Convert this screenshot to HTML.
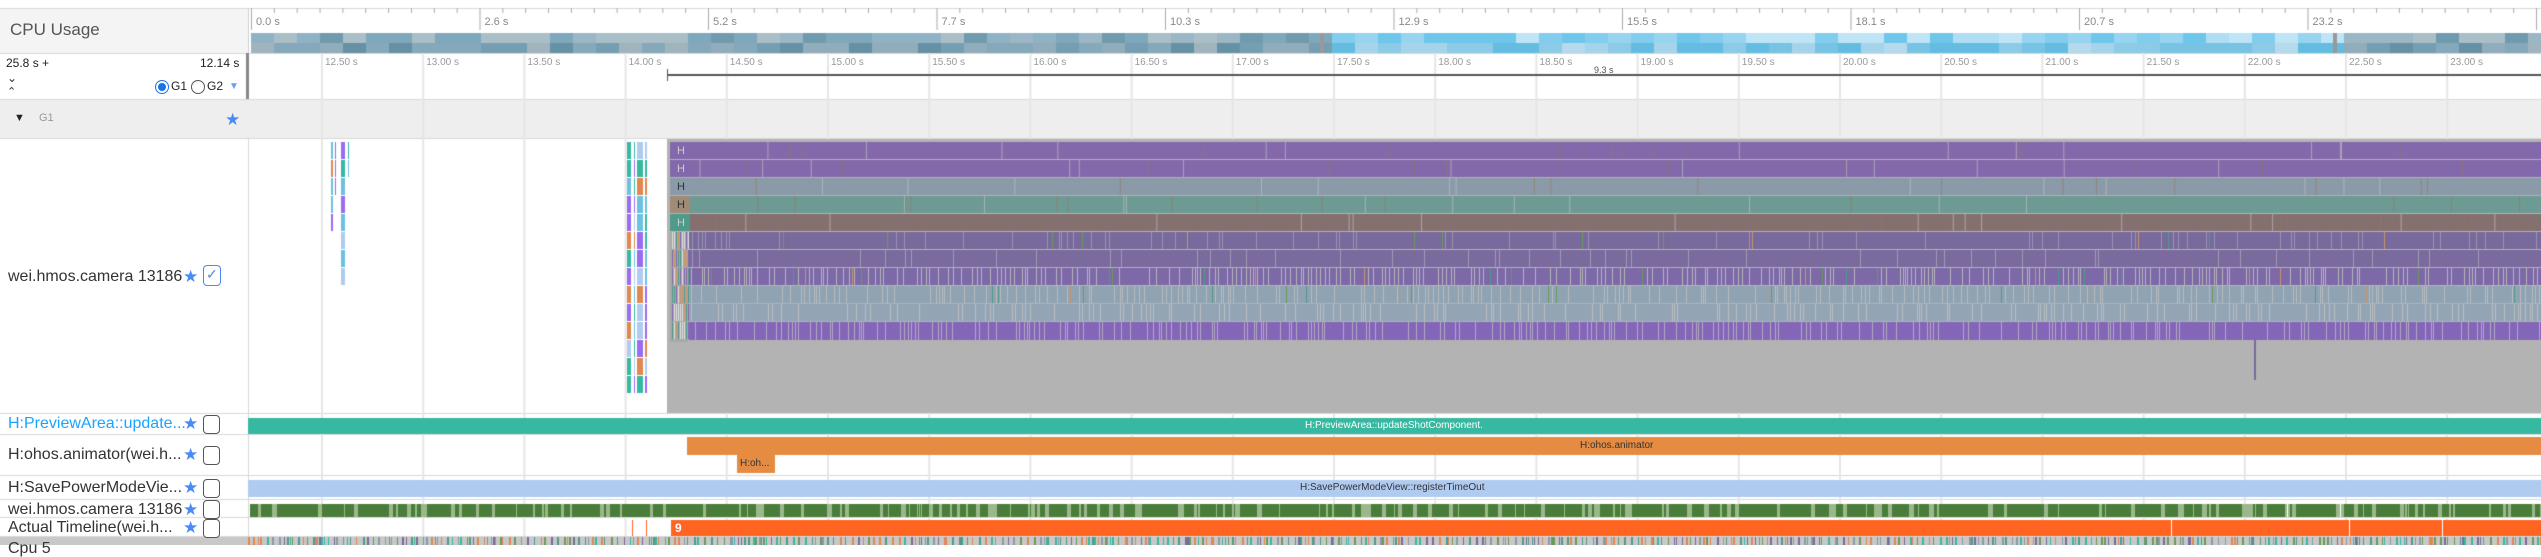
<!DOCTYPE html>
<html><head><meta charset="utf-8">
<style>
html,body{margin:0;padding:0;width:2541px;height:545px;overflow:hidden;background:#fff;font-family:"Liberation Sans",sans-serif;}
#cv{position:absolute;left:0;top:0;}
.t{position:absolute;white-space:nowrap;line-height:1;}
.lbl{font-size:16px;color:#333;}
.star{position:absolute;color:#4a8af4;font-size:17px;line-height:1;}
.cb{position:absolute;width:15px;height:17px;border:1.5px solid #555;border-radius:4px;background:#fff;}
.rl{font-size:11px;color:#888;}
.tl{font-size:10px;color:#999;}
</style></head><body>
<canvas id="cv" width="2541" height="545"></canvas>

<div class="t" style="left:10px;top:21px;font-size:17px;color:#555;">CPU Usage</div>
<div class="t" style="left:6px;top:57px;font-size:12px;color:#222;">25.8 s +</div>
<div class="t" style="left:200px;top:57px;font-size:12px;color:#222;">12.14 s</div>
<div class="t" style="left:7px;top:72px;font-size:12px;color:#333;">⌄</div>
<div class="t" style="left:7px;top:87px;font-size:11px;color:#333;">⌃</div>
<div style="position:absolute;left:155px;top:80px;width:12px;height:12px;border:1px solid #1a73e8;border-radius:50%;"></div>
<div style="position:absolute;left:158px;top:83px;width:8px;height:8px;background:#1a73e8;border-radius:50%;"></div>
<div class="t" style="left:171px;top:80px;font-size:12px;color:#222;">G1</div>
<div style="position:absolute;left:191px;top:80px;width:12px;height:12px;border:1px solid #555;border-radius:50%;"></div>
<div class="t" style="left:207px;top:80px;font-size:12px;color:#222;">G2</div>
<div class="t" style="left:229px;top:82px;font-size:10px;color:#6a9ef0;">▼</div>

<div class="t" style="left:14px;top:113px;font-size:11px;color:#222;">▼</div>
<div class="t" style="left:39px;top:113px;font-size:11px;color:#999;">G1</div>
<div class="star" style="left:225px;top:111px;">★</div>

<div class="t lbl" style="left:8px;top:269px;">wei.hmos.camera 13186</div>
<div class="star" style="left:183px;top:268px;">★</div>
<div class="cb" style="left:203px;top:265px;width:16px;height:19px;border-color:#4a8af4;"></div>
<div class="t" style="left:206px;top:267px;font-size:14px;color:#4a8af4;">✓</div>

<div class="t lbl" style="left:8px;top:416px;color:#1aa3ff;">H:PreviewArea::update...</div>
<div class="star" style="left:183px;top:415px;">★</div><div class="cb" style="left:203px;top:415px;"></div>
<div class="t lbl" style="left:8px;top:447px;">H:ohos.animator(wei.h...</div>
<div class="star" style="left:183px;top:446px;">★</div><div class="cb" style="left:203px;top:446px;"></div>
<div class="t lbl" style="left:8px;top:480px;">H:SavePowerModeVie...</div>
<div class="star" style="left:183px;top:479px;">★</div><div class="cb" style="left:203px;top:479px;"></div>
<div class="t lbl" style="left:8px;top:502px;">wei.hmos.camera 13186</div>
<div class="star" style="left:183px;top:501px;">★</div><div class="cb" style="left:203px;top:500px;"></div>
<div class="t lbl" style="left:8px;top:520px;">Actual Timeline(wei.h...</div>
<div class="star" style="left:183px;top:519px;">★</div><div class="cb" style="left:203px;top:519px;"></div>
<div class="t lbl" style="left:8px;top:541px;">Cpu 5</div>

<div class="t" style="left:1305px;top:421px;font-size:10px;color:#fff;">H:PreviewArea::updateShotComponent.</div>
<div class="t" style="left:1580px;top:441px;font-size:10px;color:#333;">H:ohos.animator</div>
<div class="t" style="left:740px;top:459px;font-size:10px;color:#333;">H:oh...</div>
<div class="t" style="left:1300px;top:483px;font-size:10px;color:#333;">H:SavePowerModeView::registerTimeOut</div>
<div class="t" style="left:675px;top:522px;font-size:12px;color:#fff;font-weight:bold;">9</div>
<div class="t" style="left:1594px;top:66px;font-size:9px;color:#555;">9.3 s</div>

<div class="t" style="left:677px;top:146px;font-size:11px;color:#ccc;">H</div>
<div class="t" style="left:677px;top:164px;font-size:11px;color:#ccc;">H</div>
<div class="t" style="left:677px;top:182px;font-size:11px;color:#333;">H</div>
<div class="t" style="left:677px;top:200px;font-size:11px;color:#333;">H</div>
<div class="t" style="left:677px;top:218px;font-size:11px;color:#ccc;">H</div>

<div id="labels"></div>
<script>
const c=document.getElementById('cv').getContext('2d');
let s=12345;const r=()=>(s=(s*16807)%2147483647)/2147483647;
const W=2541;
function R(x,y,w,h,col){c.fillStyle=col;c.fillRect(x,y,w,h);}
R(0,8,248,45,'#f4f4f4');
R(0,99,W,39,'#eeeeee');
[8,53,99,138,413,434,475,499,517,536].forEach(y=>R(0,y,W,1,'#d8d8d8'));
R(248,8,1,45,'#d0d0d0');R(246,53,3,46,'#888');R(248,138,1,398,'#d8d8d8');
let L=document.getElementById('labels'),html='';
const ml=['0.0 s','2.6 s','5.2 s','7.7 s','10.3 s','12.9 s','15.5 s','18.1 s','20.7 s','23.2 s'];
for(let k=0;k<120;k++){let x=251+k*22.85;if(x>W)break;
 if(k%10==0){R(x,8,1,22,'#aaa');html+=`<div class="t rl" style="left:${x+5}px;top:17px;">${ml[k/10]}</div>`;}
 else R(x,8,1,5,'#aaa');}
for(let x=251;x<W;x+=23){
 let seg=(x<1320||x>=2336)?0:1;
 for(let row=0;row<2;row++){
  let v=r();let col;
  if(seg==0){let a=[[143,178,196],[128,168,188],[155,182,196],[112,155,175],[170,190,200]];col=a[Math.floor(v*5)];}
  else{let a=[[150,212,240],[130,205,238],[175,222,244],[110,198,235],[190,228,246]];col=a[Math.floor(v*5)];}
  let d=row?-10:0;R(x,33+row*10,23,10,`rgb(${col[0]+d},${col[1]+d},${col[2]+d})`);
 }}
R(1320,33,4,20,'#999');R(2333,33,4,20,'#999');
for(let k=0;k<22;k++){let x=321+k*101.2;
 R(x,53,2,483,'#e6e6e6');
 let t=(12.5+k*0.5).toFixed(2)+' s';
 html+=`<div class="t tl" style="left:${x+4}px;top:58px;">${t}</div>`;}
R(667,74,W-667,2,'#555');R(667,69,1,12,'#555');
R(667,139,W-667,274,'#b3b3b3');
const rows=[['#8369ab'],['#8369ab'],['#8a9aa8'],['#6e9a94'],['#857070']];
rows.forEach((rw,i)=>{let y=142+i*18;R(670,y,W-670,17,rw[0]);
 for(let n=0;n<25;n++){R(690+r()*1850,y,1,17,r()<.5?'rgba(200,200,200,.6)':'rgba(150,120,90,.6)');}});
R(670,196,20,17,'#a08a78');R(670,214,20,17,'#4f9a8a');
function stripes(y,h,base,gap,p,extra){
 R(688,y,W-688,h,base);
 for(let x=688;x<W;x+=2+Math.floor(r()*4)){
  let v=r();
  if(v<p) R(x,y,1,h,gap);
  else if(extra&&v<p+0.04) R(x,y,1,h,extra[Math.floor(r()*extra.length)]);
 }}
const ex=['#4f9a8a','#c8946a','#6a9a5a'];
stripes(232,17,'#786a9c','#9a92b0',0.15,ex);
stripes(250,17,'#7a6a9e','#a09ab4',0.1,null);
stripes(268,17,'#7d68a8','#b5b5b8',0.55,ex);
stripes(286,17,'#8fa3b3','#b8bcc0',0.4,ex);
stripes(304,17,'#93a5b5','#b7bcc2',0.35,null);
stripes(322,18,'#8466b8','#b0a8c0',0.45,null);
R(670,232,18,110,'#a8a8ac');
for(let x=672;x<690;x+=2){for(let i=5;i<11;i++)R(x,142+i*18,1,17,['#c8946a','#4f9a8a','#8369ab','#ddd'][Math.floor(r()*4)]);}
const sc=['#9a6cf0','#36b9a0','#b0cbf0','#e08850','#6cc0e0'];
[[331,2,5],[335,1,3],[341,4,8],[348,1,2]].forEach(([x,w,d])=>{for(let i=0;i<d;i++)R(x,142+i*18,w,17,sc[Math.floor(r()*5)]);});
[[627,4,14],[634,1,14],[637,6,14],[645,2,14]].forEach(([x,w,d])=>{for(let i=0;i<d;i++)R(x,142+i*18,w,17,sc[Math.floor(r()*5)]);});
R(2254,340,2,40,'#7a6a9e');
R(248,418,W-248,16,'#36b9a0');
R(687,437,W-687,18,'#e68c42');R(737,455,38,18,'#e68c42');
R(248,480,W-248,17,'#b0cbf0');
for(let x=250;x<W;){let w=1+Math.floor(r()*4);R(x,504,w,13,r()<0.8?'#4a7c3a':'#9ab88a');x+=w;}
R(2287,504,1,13,'#fff');R(2340,504,1,13,'#fff');
R(671,520,W-671,16,'#ff6420');R(632,520,1,16,'#ff6420');R(646,520,1,16,'#ff6420');
R(2171,520,1,16,'#fff');R(2349,520,1,16,'#fff');R(2442,520,1,16,'#fff');
R(0,537,W,8,'#c8c8c8');
const cc=['#7a6a9e','#36b9a0','#4f9a8a','#6a9a5a','#e08850','#8a9aa8'];
for(let x=248;x<W;x+=2+Math.floor(r()*6)){R(x,537,1+Math.floor(r()*2),8,cc[Math.floor(r()*6)]);}
L.innerHTML=html;
</script>
</body></html>
